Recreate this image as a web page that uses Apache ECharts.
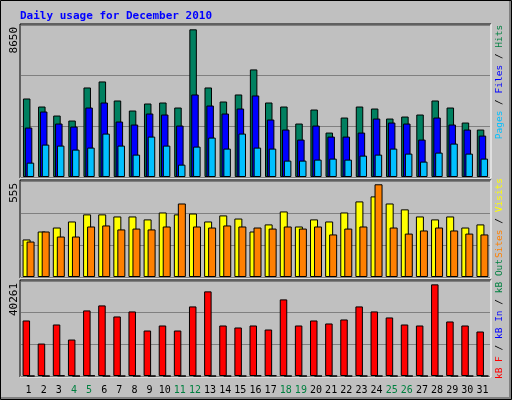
<!DOCTYPE html>
<html><head><meta charset="utf-8">
<script src="https://cdn.jsdelivr.net/npm/echarts@6/dist/echarts.min.js"></script>
<style>html,body{margin:0;padding:0;background:#c0c0c0}#c{width:512px;height:400px}</style>
</head><body><div id="c"></div>
<script>
const days = Array.from({length:31},(_,i)=>String(i+1));
const weekend = ['4','5','11','12','18','19','25','26'];
const S1 = 8650/455, S2 = 555/287, S3 = 40261/284;
const hitsPx = [235,211,184,169,268,286,229,199,220,223,208,442,268,226,247,322,223,211,160,202,133,178,211,205,175,181,187,229,208,163,142];
const filesPx = [148,196,160,151,208,223,166,157,190,187,154,247,214,190,205,244,172,142,112,154,121,121,133,175,163,160,112,178,157,142,124];
const pagesPx = [43,97,94,82,88,130,94,67,121,94,37,91,118,85,130,88,85,49,49,52,55,52,64,67,85,70,46,73,100,70,55];
const visitsPx = [112,136,148,166,187,187,181,181,172,193,187,190,166,184,175,136,157,196,151,172,166,193,226,241,220,202,181,172,181,148,157];
const sitesPx = [106,136,121,121,151,154,142,145,142,151,220,151,148,154,151,148,145,151,145,151,127,145,151,277,148,130,139,148,139,130,127];
const kbfPx = [166,97,154,109,196,211,178,193,136,151,136,208,253,151,145,151,139,229,151,166,157,169,208,193,175,154,151,274,163,151,133];
const hits = hitsPx.map(v=>Math.round(v*S1));
const files = filesPx.map(v=>Math.round(v*S1));
const pages = pagesPx.map(v=>Math.round(v*S1));
const visits = visitsPx.map(v=>Math.round(v*S2));
const sites = sitesPx.map(v=>Math.round(v*S2));
const kbF = kbfPx.map(v=>Math.round(v*S3));
const kbIn = [0,0,200,0,200,0,0,0,0,0,0,0,0,0,0,200,200,0,0,0,0,0,0,0,0,0,0,0,0,0,0];
const maxTop = 8650, maxMid = 555, maxBot = 40261;

const mono = 'DejaVu Sans Mono';
const grids = [
  {left:21,width:469,top:25,height:152},
  {left:21,width:469,top:181,height:96},
  {left:21,width:469,top:281,height:95}
];
const xAxes = grids.map((g,i)=>({gridIndex:i,type:'category',data:days,
  axisLine:{show:false},axisTick:{show:false},
  axisLabel:{show:i===2,interval:0,fontFamily:mono,fontSize:10,margin:9,
    color:(v)=>weekend.includes(v)?'#008040':'#000'}}));
const yAxes = [maxTop,maxMid,maxBot].map((m,i)=>({gridIndex:i,type:'value',min:0,max:m,interval:m/3,
  axisLabel:{show:false},axisLine:{show:false},axisTick:{show:false},
  splitLine:{lineStyle:{color:'#808080',width:1}}}));
const bar=(name,data,ci,color,w,gap,z)=>({name,type:'bar',data,xAxisIndex:ci,yAxisIndex:ci,
  barWidth:w,barGap:gap,z,itemStyle:{color,borderColor:'#000',borderWidth:1},silent:true,animation:false});

const rich = {
  p:{fill:'#00c0ff'},f:{fill:'#0000ff'},h:{fill:'#008040'},k:{fill:'#000'},
  s:{fill:'#ff8000'},v:{fill:'#ffff00'},r:{fill:'#ff0000'},b:{fill:'#0000ff'},g:{fill:'#008040'}
};
function vtext(x,y,txt){return {type:'text',x,y,rotation:Math.PI/2,
  style:{text:txt,rich,fontFamily:mono,fontSize:9.5,align:'center',verticalAlign:'middle'}};}
function ylab(y,txt){return {type:'text',x:14,y,rotation:Math.PI/2,
  style:{text:txt,fontFamily:mono,fontSize:11,fill:'#000',align:'right',verticalAlign:'middle'}};}
function frame(g){return [
  {type:'line',shape:{x1:g.left-1,y1:g.top-1,x2:g.left+g.width+1,y2:g.top-1},style:{stroke:'#000'}},
  {type:'line',shape:{x1:g.left-1,y1:g.top-1,x2:g.left-1,y2:g.top+g.height+1},style:{stroke:'#000'}},
  {type:'line',shape:{x1:g.left-1,y1:g.top+g.height+1,x2:g.left+g.width+1,y2:g.top+g.height+1},style:{stroke:'#fff'}},
  {type:'line',shape:{x1:g.left+g.width+1,y1:g.top-1,x2:g.left+g.width+1,y2:g.top+g.height+1},style:{stroke:'#fff'}}
];}

const chart = echarts.init(document.getElementById('c'));
chart.setOption({
  backgroundColor:'#c0c0c0', animation:false,
  grid:grids, xAxis:xAxes, yAxis:yAxes,
  series:[
    bar('Hits',hits,0,'#008060',7.5,'-75%',2),
    bar('Files',files,0,'#0000ff',7.5,'-75%',3),
    bar('Pages',pages,0,'#00c0ff',7.5,'-75%',4),
    bar('Visits',visits,1,'#ffff00',8,'-50%',2),
    bar('Sites',sites,1,'#ff8000',8,'-50%',3),
    bar('kB F',kbF,2,'#ff0000',7.5,'-40%',2),
    bar('kB In',kbIn,2,'#0000ff',7.5,'-40%',3)
  ],
  graphic:[
    {type:'rect',shape:{x:0.5,y:0.5,width:511,height:399},style:{fill:'none',stroke:'#000'},z:-1},
    {type:'line',shape:{x1:1,y1:398,x2:511,y2:398},style:{stroke:'#808080',lineWidth:2}},
    {type:'line',shape:{x1:510,y1:1,x2:510,y2:398},style:{stroke:'#808080',lineWidth:2}},
    {type:'text',x:20,y:16,style:{text:'Daily usage for December 2010',fontFamily:mono,fontSize:11,fontWeight:'bold',fill:'#0000ff',verticalAlign:'middle'}},
    ...frame(grids[0]),...frame(grids[1]),...frame(grids[2]),
    ylab(27,'8650'), ylab(183,'555'), ylab(283,'40261'),
    vtext(500,82,'{p|Pages}{k| / }{f|Files}{k| / }{h|Hits}'),
    vtext(500,218,'{s|Sites}{k| / }{v|Visits}'),
    vtext(500,319,'{r|kB F}{k| / }{b|kB In}{k| / }{g|kB Out}')
  ]
});
</script></body></html>
